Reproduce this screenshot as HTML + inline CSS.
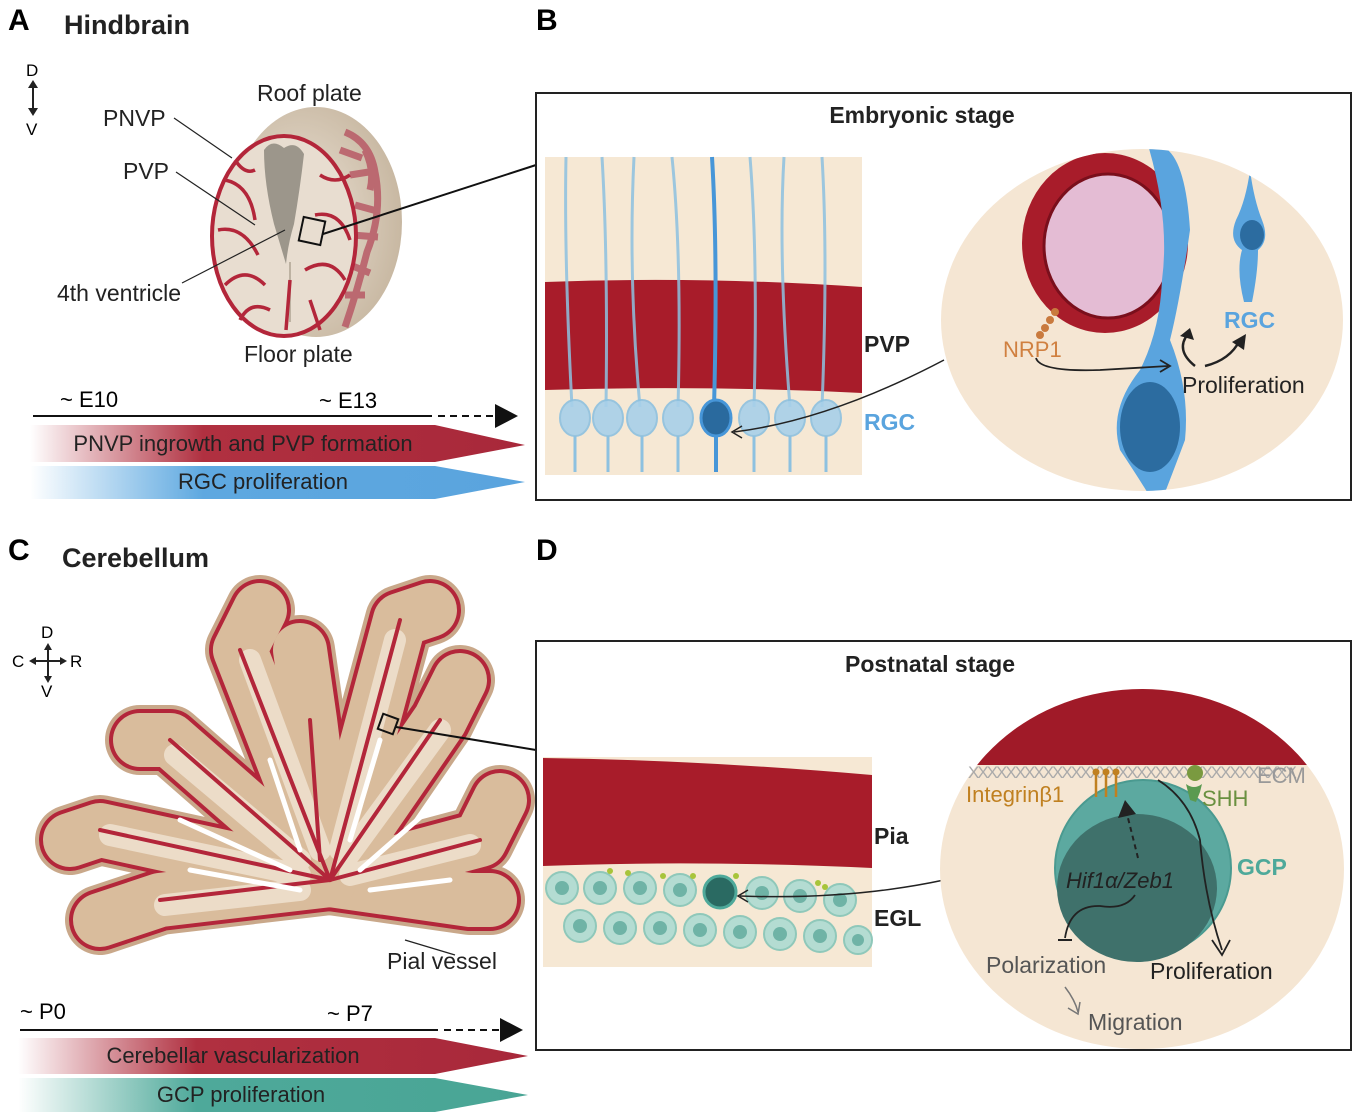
<!DOCTYPE html>
<html><head><meta charset="utf-8"><style>
body{margin:0;background:#fff}
svg{display:block;font-family:"Liberation Sans",sans-serif}
</style></head><body>
<svg width="1355" height="1117" viewBox="0 0 1355 1117">
<defs>
<linearGradient id="gr" x1="0" x2="1"><stop offset="0" stop-color="#b02a3a" stop-opacity="0"/><stop offset="0.35" stop-color="#b03040"/><stop offset="1" stop-color="#a8283a"/></linearGradient>
<linearGradient id="gb" x1="0" x2="1"><stop offset="0" stop-color="#5aa8e0" stop-opacity="0"/><stop offset="0.35" stop-color="#5ea8e0"/><stop offset="1" stop-color="#5aa4de"/></linearGradient>
<linearGradient id="gt" x1="0" x2="1"><stop offset="0" stop-color="#4aa898" stop-opacity="0"/><stop offset="0.35" stop-color="#4ea99a"/><stop offset="1" stop-color="#49a595"/></linearGradient>
<radialGradient id="hb" cx="0.4" cy="0.5" r="0.6"><stop offset="0" stop-color="#ede4d8"/><stop offset="1" stop-color="#c8b8a2"/></radialGradient>
<clipPath id="cb"><ellipse cx="1142" cy="320" rx="201" ry="171"/></clipPath>
<clipPath id="cd"><ellipse cx="1142" cy="869" rx="202" ry="180"/></clipPath>
</defs>

<text x="8" y="30" font-size="30" font-weight="bold">A</text>
<text x="64" y="34" font-size="27" font-weight="bold" fill="#222">Hindbrain</text>
<text x="536" y="30" font-size="30" font-weight="bold">B</text>
<text x="8" y="560" font-size="30" font-weight="bold">C</text>
<text x="62" y="567" font-size="27" font-weight="bold" fill="#222">Cerebellum</text>
<text x="536" y="560" font-size="30" font-weight="bold">D</text>

<text x="26" y="76" font-size="17">D</text>
<line x1="33" y1="84" x2="33" y2="112" stroke="#222" stroke-width="2"/>
<path d="M28 88 L33 80 L38 88Z M28 108 L33 116 L38 108Z" fill="#222"/>
<text x="26" y="135" font-size="17">V</text>

<!-- Hindbrain -->
<ellipse cx="316" cy="222" rx="86" ry="115" fill="url(#hb)"/>
<g stroke="#b85a66" stroke-width="7" fill="none" opacity="0.85">
<path d="M345 132 q25 10 30 40 q8 40 -8 80 q-10 40 -22 75"/>
<path d="M340 150 l22 8 M350 175 l25 -4 M355 205 l22 6 M352 235 l26 2 M350 265 l20 8 M345 295 l20 0 M365 150 q10 20 5 40"/>
</g>
<ellipse cx="284" cy="236" rx="72" ry="100" fill="#e8ddd0" stroke="#b3263a" stroke-width="4"/>
<path d="M264 150 q8 -12 20 -2 q12 -8 20 6 q-4 35 -10 70 q-6 20 -8 40 q-6 -20 -12 -40 q-10 -40 -10 -74z" fill="#9c968b"/>
<path d="M290 262 v60" stroke="#bdb2a2" stroke-width="2"/>
<g stroke="#b3263a" stroke-width="3.5" fill="none">
<path d="M225 180 q25 5 30 40 M218 230 q25 -5 40 25 M225 285 q20 -20 40 0 M240 320 q10 -20 30 -10 M320 175 q15 10 30 0 M315 215 q25 -5 35 25 M305 270 q25 -15 40 10 M290 280 l-4 50 M310 300 l10 30 M235 160 q10 15 20 10"/>
</g>
<rect x="301" y="219" width="22" height="24" fill="none" stroke="#111" stroke-width="2" transform="rotate(12 312 231)"/>
<line x1="323" y1="234" x2="536" y2="165" stroke="#111" stroke-width="2"/>
<g font-size="23" fill="#222">
<text x="257" y="101">Roof plate</text>
<text x="103" y="126">PNVP</text>
<text x="123" y="179">PVP</text>
<text x="57" y="301">4th ventricle</text>
<text x="244" y="362">Floor plate</text>
</g>
<path d="M174 118 L232 158 M176 172 L255 225 M182 283 L285 230" stroke="#222" stroke-width="1.2" fill="none"/>

<text x="60" y="407" font-size="22">~ E10</text>
<text x="319" y="408" font-size="22">~ E13</text>
<line x1="33" y1="416" x2="432" y2="416" stroke="#111" stroke-width="2"/>
<line x1="438" y1="416" x2="495" y2="416" stroke="#111" stroke-width="2" stroke-dasharray="7 5"/>
<path d="M495 404 L518 416 L495 428Z" fill="#111"/>
<path d="M30 425 L435 425 L525 445 L435 462 L30 462Z" fill="url(#gr)"/>
<text x="243" y="451" font-size="22" text-anchor="middle" fill="#222">PNVP ingrowth and PVP formation</text>
<path d="M30 466 L435 466 L525 482 L435 499 L30 499Z" fill="url(#gb)"/>
<text x="263" y="489" font-size="22" text-anchor="middle" fill="#222">RGC proliferation</text>

<!-- Panel B -->
<rect x="536" y="93" width="815" height="407" fill="none" stroke="#222" stroke-width="2"/>
<text x="922" y="123" font-size="23" font-weight="bold" text-anchor="middle" fill="#222">Embryonic stage</text>
<rect x="545" y="157" width="317" height="318" fill="#f6e8d4"/>
<path d="M545 282 Q700 276 862 287 L862 393 Q700 385 545 390Z" fill="#a81c2a"/>
<g stroke="#8dc1e0" stroke-width="3" fill="none" opacity="0.85">
<path d="M566 157 q-2 100 6 250"/><path d="M602 157 q6 100 4 250"/><path d="M634 157 q-6 120 6 250"/><path d="M672 157 q10 100 6 250"/><path d="M750 157 q8 100 4 250"/><path d="M784 157 q-6 100 6 250"/><path d="M822 157 q6 100 0 250"/>
</g>
<path d="M712 157 q6 100 2 250" stroke="#4796d8" stroke-width="4" fill="none"/>
<g fill="#a8d0ea" stroke="#8dc1e0" stroke-width="2" opacity="0.9">
<ellipse cx="575" cy="418" rx="15" ry="18"/><ellipse cx="608" cy="418" rx="15" ry="18"/><ellipse cx="642" cy="418" rx="15" ry="18"/><ellipse cx="678" cy="418" rx="15" ry="18"/><ellipse cx="754" cy="418" rx="15" ry="18"/><ellipse cx="790" cy="418" rx="15" ry="18"/><ellipse cx="826" cy="418" rx="15" ry="18"/>
</g>
<g stroke="#8dc1e0" stroke-width="3"><path d="M575 436 v36 M608 436 v36 M642 436 v36 M678 436 v36 M754 436 v36 M790 436 v36 M826 436 v36"/></g>
<ellipse cx="716" cy="418" rx="15" ry="18" fill="#2a6a9e" stroke="#4796d8" stroke-width="3"/>
<path d="M716 436 v36" stroke="#4796d8" stroke-width="4"/>
<text x="864" y="352" font-size="23" font-weight="bold" fill="#222">PVP</text>
<text x="864" y="430" font-size="23" font-weight="bold" fill="#5aa4de">RGC</text>
<path d="M944 360 Q830 420 734 432" stroke="#222" stroke-width="1.5" fill="none"/>
<path d="M742 426 L732 432 L742 438" stroke="#222" stroke-width="1.5" fill="none"/>

<ellipse cx="1142" cy="320" rx="201" ry="171" fill="#f5e6d3"/>
<g clip-path="url(#cb)">
<ellipse cx="1105" cy="243" rx="83" ry="90" fill="#a81c2a"/>
<ellipse cx="1108" cy="246" rx="64" ry="72" fill="#e4bcd4" stroke="#7a0f1c" stroke-width="3"/>
<path d="M1158 145 Q1185 150 1190 230 Q1180 300 1170 340 Q1190 390 1185 440 Q1170 480 1162 500 L1152 500 Q1140 480 1120 450 Q1108 410 1140 370 Q1160 330 1162 280 Q1170 220 1148 145Z" fill="#5aa4de"/>
<ellipse cx="1150" cy="427" rx="30" ry="45" fill="#2c6ca0"/>
<path d="M1250 170 q-4 30 -14 50 q-8 20 6 30 q-6 20 2 52 l8 0 q6 -30 6 -52 q12 -10 4 -30 q-8 -20 -12 -50z" fill="#5aa4de"/>
<ellipse cx="1252" cy="235" rx="12" ry="15" fill="#2c6ca0"/>
</g>
<g fill="#c97a3e"><circle cx="1055" cy="312" r="4"/><circle cx="1050" cy="320" r="4"/><circle cx="1045" cy="328" r="4"/><circle cx="1040" cy="335" r="4"/></g>
<text x="1003" y="357" font-size="22" fill="#d08040">NRP1</text>
<text x="1224" y="328" font-size="23" font-weight="bold" fill="#5aa4de">RGC</text>
<text x="1182" y="393" font-size="23" fill="#222">Proliferation</text>
<path d="M1036 358 Q1040 372 1100 370 L1168 366" stroke="#222" stroke-width="1.8" fill="none"/>
<path d="M1160 360 L1170 366 L1160 372" stroke="#222" stroke-width="1.8" fill="none"/>
<path d="M1195 366 Q1175 350 1188 334" stroke="#222" stroke-width="2.5" fill="none"/>
<path d="M1180 336 L1190 328 L1194 340Z" fill="#222"/>
<path d="M1205 366 Q1230 360 1240 340" stroke="#222" stroke-width="2.5" fill="none"/>
<path d="M1232 342 L1246 334 L1244 350Z" fill="#222"/>

<text x="41" y="638" font-size="17">D</text>
<text x="41" y="697" font-size="17">V</text>
<text x="12" y="667" font-size="17">C</text>
<text x="70" y="667" font-size="17">R</text>
<path d="M48 645 V680 M32 661 H64" stroke="#222" stroke-width="2"/>
<path d="M44 650 L48 643 L52 650Z M44 676 L48 683 L52 676Z M36 657 L29 661 L36 665Z M60 657 L67 661 L60 665Z" fill="#222"/>

<!-- Cerebellum -->
<g stroke-linecap="round" stroke-linejoin="round" fill="none">
<g stroke="#c9a88a" stroke-width="70">
<path d="M330 880 L240 650 L260 610"/><path d="M330 880 L400 620 L430 610"/><path d="M330 880 L440 720 L460 680"/><path d="M330 880 L480 840 L500 800"/><path d="M330 880 L470 900 L490 900"/><path d="M330 880 L170 740 L140 740"/><path d="M330 880 L100 830 L70 840"/><path d="M330 880 L160 900 L100 920"/><path d="M330 880 L310 720 L300 650"/>
</g>
<g stroke="#b3263a" stroke-width="62">
<path d="M330 880 L240 650 L260 610"/><path d="M330 880 L400 620 L430 610"/><path d="M330 880 L440 720 L460 680"/><path d="M330 880 L480 840 L500 800"/><path d="M330 880 L470 900 L490 900"/><path d="M330 880 L170 740 L140 740"/><path d="M330 880 L100 830 L70 840"/><path d="M330 880 L160 900 L100 920"/><path d="M330 880 L310 720 L300 650"/>
</g>
<g stroke="#d9bc9c" stroke-width="54">
<path d="M330 880 L240 650 L260 610"/><path d="M330 880 L400 620 L430 610"/><path d="M330 880 L440 720 L460 680"/><path d="M330 880 L480 840 L500 800"/><path d="M330 880 L470 900 L490 900"/><path d="M330 880 L170 740 L140 740"/><path d="M330 880 L100 830 L70 840"/><path d="M330 880 L160 900 L100 920"/><path d="M330 880 L310 720 L300 650"/>
</g>
<g stroke="#ecdcc8" stroke-width="22">
<path d="M320 850 L250 660"/><path d="M340 850 L395 640"/><path d="M345 860 L440 730"/><path d="M350 875 L470 845"/><path d="M300 860 L175 755"/><path d="M300 875 L110 835"/><path d="M300 890 L165 905"/>
</g>
<g stroke="#b3263a" stroke-width="4">
<path d="M330 880 L240 650"/><path d="M330 880 L400 620"/><path d="M330 880 L440 720"/><path d="M330 880 L480 840"/><path d="M330 880 L170 740"/><path d="M330 880 L100 830"/><path d="M330 880 L160 900"/><path d="M320 860 L310 720"/>
</g>
<g stroke="#fff" stroke-width="5">
<path d="M300 850 L270 760"/><path d="M350 840 L380 740"/><path d="M360 870 L440 800"/><path d="M290 870 L180 820"/><path d="M300 890 L190 870"/><path d="M370 890 L450 880"/>
</g>
</g>
<rect x="380" y="716" width="16" height="16" fill="none" stroke="#111" stroke-width="2" transform="rotate(20 388 724)"/>
<line x1="396" y1="727" x2="536" y2="750" stroke="#111" stroke-width="2"/>
<text x="387" y="969" font-size="23" fill="#222">Pial vessel</text>
<path d="M405 940 L455 955" stroke="#222" stroke-width="1.2"/>

<text x="20" y="1019" font-size="22">~ P0</text>
<text x="327" y="1021" font-size="22">~ P7</text>
<line x1="20" y1="1030" x2="438" y2="1030" stroke="#111" stroke-width="2"/>
<line x1="444" y1="1030" x2="500" y2="1030" stroke="#111" stroke-width="2" stroke-dasharray="7 5"/>
<path d="M500 1018 L523 1030 L500 1042Z" fill="#111"/>
<path d="M18 1038 L435 1038 L528 1056 L435 1074 L18 1074Z" fill="url(#gr)"/>
<text x="233" y="1063" font-size="22" text-anchor="middle" fill="#222">Cerebellar vascularization</text>
<path d="M18 1078 L435 1078 L528 1095 L435 1112 L18 1112Z" fill="url(#gt)"/>
<text x="241" y="1102" font-size="22" text-anchor="middle" fill="#222">GCP proliferation</text>

<!-- Panel D -->
<rect x="536" y="641" width="815" height="409" fill="none" stroke="#222" stroke-width="2"/>
<text x="930" y="672" font-size="23" font-weight="bold" text-anchor="middle" fill="#222">Postnatal stage</text>
<rect x="543" y="757" width="329" height="210" fill="#f6e8d4"/>
<path d="M543 758 Q700 760 872 775 L872 868 Q700 860 543 866Z" fill="#a81c2a"/>
<g fill="#b4dcd2" stroke="#8fc8ba" stroke-width="2">
<circle cx="562" cy="888" r="16"/><circle cx="600" cy="888" r="16"/><circle cx="640" cy="888" r="16"/><circle cx="680" cy="890" r="16"/><circle cx="762" cy="893" r="16"/><circle cx="800" cy="896" r="16"/><circle cx="840" cy="900" r="16"/>
<circle cx="580" cy="926" r="16"/><circle cx="620" cy="928" r="16"/><circle cx="660" cy="928" r="16"/><circle cx="700" cy="930" r="16"/><circle cx="740" cy="932" r="16"/><circle cx="780" cy="934" r="16"/><circle cx="820" cy="936" r="16"/><circle cx="858" cy="940" r="14"/>
</g>
<g fill="#6fb3a6"><circle cx="562" cy="888" r="7"/><circle cx="600" cy="888" r="7"/><circle cx="640" cy="888" r="7"/><circle cx="680" cy="890" r="7"/><circle cx="762" cy="893" r="7"/><circle cx="800" cy="896" r="7"/><circle cx="840" cy="900" r="7"/><circle cx="580" cy="926" r="7"/><circle cx="620" cy="928" r="7"/><circle cx="660" cy="928" r="7"/><circle cx="700" cy="930" r="7"/><circle cx="740" cy="932" r="7"/><circle cx="780" cy="934" r="7"/><circle cx="820" cy="936" r="7"/><circle cx="858" cy="940" r="6"/></g>
<circle cx="720" cy="892" r="16" fill="#2a6a62" stroke="#4ea99a" stroke-width="3"/>
<g fill="#a8c43a"><circle cx="610" cy="871" r="3"/><circle cx="628" cy="873" r="3"/><circle cx="663" cy="876" r="3"/><circle cx="693" cy="876" r="3"/><circle cx="736" cy="876" r="3"/><circle cx="818" cy="883" r="3"/><circle cx="825" cy="887" r="3"/></g>
<text x="874" y="844" font-size="23" font-weight="bold" fill="#222">Pia</text>
<text x="874" y="926" font-size="23" font-weight="bold" fill="#222">EGL</text>
<path d="M944 880 Q850 900 740 896" stroke="#222" stroke-width="1.5" fill="none"/>
<path d="M748 890 L738 896 L748 902" stroke="#222" stroke-width="1.5" fill="none"/>

<ellipse cx="1142" cy="869" rx="202" ry="180" fill="#f5e6d3"/>
<g clip-path="url(#cd)">
<rect x="930" y="680" width="420" height="85" fill="#a01a28"/>
</g>
<text x="968" y="778" font-size="17" fill="#aaa" letter-spacing="-2">XXXXXXXXXXXXXXXXXXXXXXXXXXXXXXXXXXX</text>
<circle cx="1143" cy="868" r="88" fill="#5ca9a0" stroke="#4a9a90" stroke-width="2"/>
<ellipse cx="1137" cy="888" rx="80" ry="74" fill="#3f716b"/>
<g stroke="#c08020" stroke-width="2.5"><path d="M1096 772 v25 M1106 772 v25 M1116 772 v25"/></g>
<g fill="#c08020"><circle cx="1096" cy="772" r="3.5"/><circle cx="1106" cy="772" r="3.5"/><circle cx="1116" cy="772" r="3.5"/></g>
<circle cx="1195" cy="773" r="8" fill="#7a9a40"/>
<path d="M1186 784 q8 6 16 0 l-2 8 l-4 10 l-6 -2z" fill="#5a9a50"/>
<text x="966" y="802" font-size="22" fill="#c08020">Integrinβ1</text>
<text x="1202" y="806" font-size="22" fill="#6a9040">SHH</text>
<text x="1257" y="783" font-size="22" fill="#999">ECM</text>
<text x="1237" y="875" font-size="23" font-weight="bold" fill="#4ea99a">GCP</text>
<text x="1066" y="888" font-size="22" font-style="italic" fill="#222">Hif1α/Zeb1</text>
<path d="M1138 858 L1126 810" stroke="#222" stroke-width="2" stroke-dasharray="5 4"/>
<path d="M1118 818 L1125 800 L1136 814Z" fill="#222"/>
<path d="M1135 895 Q1125 910 1100 906 Q1070 905 1065 938" stroke="#222" stroke-width="1.8" fill="none"/>
<path d="M1058 940 H1072" stroke="#222" stroke-width="2"/>
<path d="M1158 780 Q1190 800 1200 840 Q1205 900 1222 950" stroke="#222" stroke-width="1.8" fill="none"/>
<path d="M1212 940 L1222 955 L1230 940" stroke="#222" stroke-width="1.8" fill="none"/>
<text x="986" y="973" font-size="23" fill="#555">Polarization</text>
<text x="1150" y="979" font-size="23" fill="#222">Proliferation</text>
<text x="1088" y="1030" font-size="23" fill="#555">Migration</text>
<path d="M1065 987 Q1075 1000 1078 1012 M1068 1008 L1078 1014 L1080 1002" stroke="#777" stroke-width="1.5" fill="none"/>
</svg>
</body></html>
